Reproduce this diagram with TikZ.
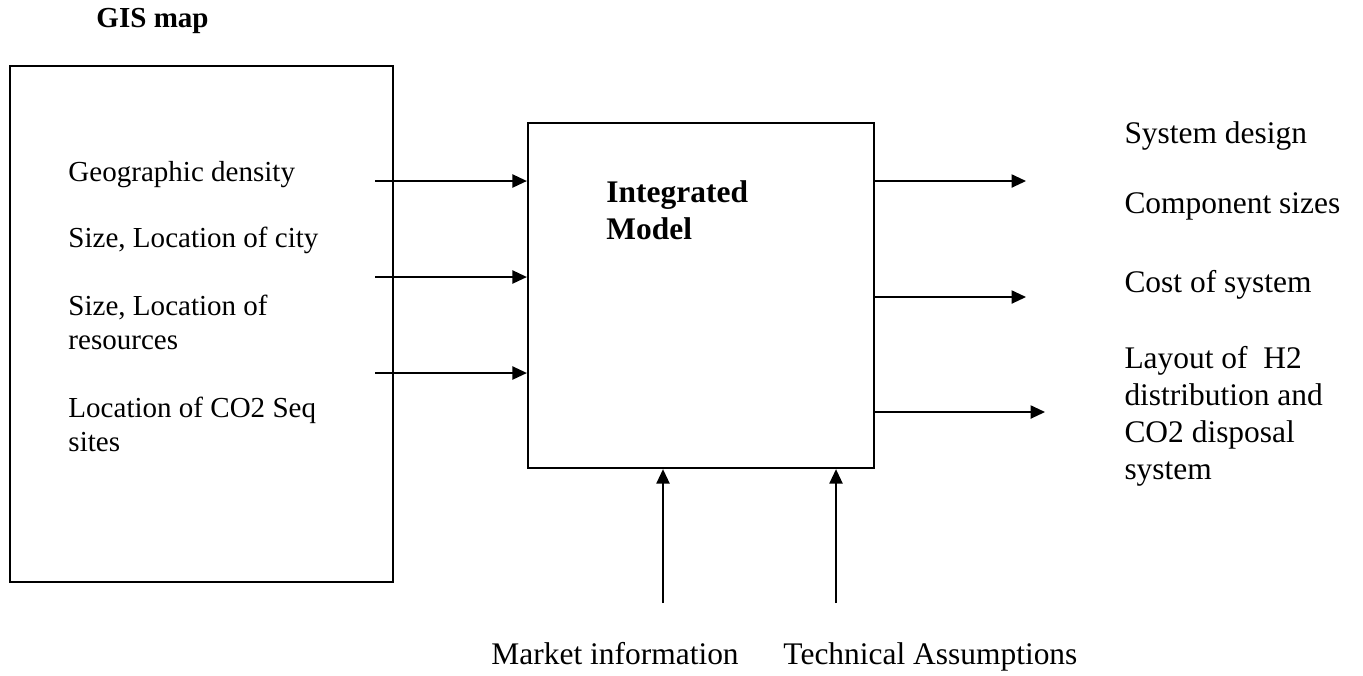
\documentclass[tikz,border=0pt]{standalone}
\usepackage{fontspec}
\setmainfont{Liberation Serif}
\usetikzlibrary{arrows.meta,positioning}

\tikzset{
  flow/.style={line width=0.6pt, -{Triangle[length=6pt,width=5.5pt]}},
  lbl/.style={anchor=base west, inner sep=0pt, align=left,
    font=\fontsize{12}{14}\selectfont},
  biglbl/.style={lbl, font=\fontsize{13}{15.2}\selectfont},
  bold/.style={lbl, font=\fontsize{12}{14.5}\selectfont\bfseries},
}

\begin{document}
\begin{tikzpicture}[x=0.01452cm, y=-0.01452cm]
  \useasboundingbox (0,0) rectangle (1363,675);
  % GIS map box
  \node[bold] (gis) at (96,27) {GIS map};
  \draw[line width=1.1pt] (87,66) -- (10,66) -- (10,582) -- (393,582)
    -- (393,66) -- (357,66);
  \draw[line width=0.7pt] (87,66) -- (357,66);
  \node[lbl] (density) at (68,181) {Geographic density};
  \node[lbl] (city) at (68,247) {Size, Location of city};
  \node[lbl] (resources) at (68,349) {Size, Location of\\resources};
  \node[lbl] (seq) at (68,451) {Location of CO2 Seq\\sites};
  % Integrated model box
  \node[draw, line width=1pt, inner sep=0pt, minimum width=5.024cm,
    minimum height=5.01cm] (model) at (701,295.5) {};
  \node[bold, font=\fontsize{13}{15}\selectfont\bfseries] (title) at (606,239)
    {Integrated\\Model};
  % Inputs
  \coordinate (in1) at (375,181);
  \coordinate (in2) at (375,277);
  \coordinate (in3) at (375,373);
  \foreach \c in {in1,in2,in3}
    \draw[flow] (\c) -- (\c -| model.west);
  % Outputs
  \coordinate (out1) at (1026,181);
  \coordinate (out2) at (1026,297);
  \coordinate (out3) at (1045,412);
  \foreach \c in {out1,out2,out3}
    \draw[flow] (\c -| model.east) -- (\c);
  \node[biglbl] (design) at (1124,143) {System design};
  \node[biglbl] (sizes) at (1124,213) {Component sizes};
  \node[biglbl] (cost) at (1124,292) {Cost of system};
  \node[biglbl] (layout) at (1124,479)
    {Layout of~ H2\\distribution and\\CO2 disposal\\system};
  % Bottom inputs
  \coordinate (mk) at (663,603);
  \coordinate (tech) at (836,603);
  \draw[flow] (mk) -- (mk |- model.south);
  \draw[flow] (tech) -- (tech |- model.south);
  \node[biglbl] (market) at (491,664) {Market information};
  \node[biglbl] (assume) at (783,664) {Technical Assumptions};
\end{tikzpicture}
\end{document}
